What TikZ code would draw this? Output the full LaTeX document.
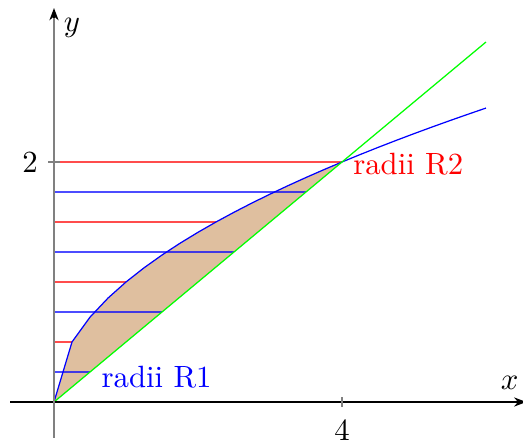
\documentclass[tikz,border=0pt]{standalone}
\usetikzlibrary{arrows.meta}
\begin{document}
\begin{tikzpicture}[x=23.4pt,y=39pt,
  thin line/.style={line width=0.4pt},
  hl/.style={line width=0.45pt, opacity=0.7},
  lbl/.style={inner sep=0pt}]
\useasboundingbox (-0.75,-0.35) rectangle (6.514,3.35);
% shaded region
\fill[brown!50] plot[domain=0:4, samples=17] (\x,{sqrt(\x)}) -- cycle;
% radii lines
\foreach \y in {0.25,0.75,1.25,1.75}
  \draw[blue,hl] (0,\y) -- ({2*\y},\y);
\foreach \y in {0.5,1,1.5,2}
  \draw[red,hl] (0,\y) -- ({\y*\y},\y);
% curves
\draw[blue,thin line] plot[domain=0:6, samples=25] (\x,{sqrt(\x)});
\coordinate (o) at (0,0);
\coordinate (g) at (6,3);
\draw[green,thin line] (o) -- (g);
% axes
\coordinate (xa) at (-0.611,0);
\coordinate (xb) at (6.56,0);
\coordinate (ya) at (0,-0.3);
\coordinate (yb) at (0,3.283);
\draw[thin line,-{Stealth[length=4pt,width=3pt]}] (xa) -- (xb);
\draw[gray,line width=0.5pt] (ya) -- (0,3.22);
\draw[line width=0.5pt,-{Stealth[length=4pt,width=3pt]}] (0,3.2) -- (yb);
% ticks
\draw[gray,thin line] (4,-0.042) -- (4,0.042);
\draw[gray,thin line] (-0.083,2) -- (0.083,2);
% labels
\node[lbl] (xl) at (6.33,0.158) {$x$};
\node[lbl] (yl) at (0.25,3.117) {$y$};
\node[lbl] (t2) at (-0.333,2) {2};
\node[lbl] (t4) at (4,-0.233) {4};
\node[lbl,blue,anchor=west] (r1) at (0.653,0.208) {radii R1};
\node[lbl,red,anchor=west] (r2) at (4.148,1.983) {radii R2};
\end{tikzpicture}
\end{document}
